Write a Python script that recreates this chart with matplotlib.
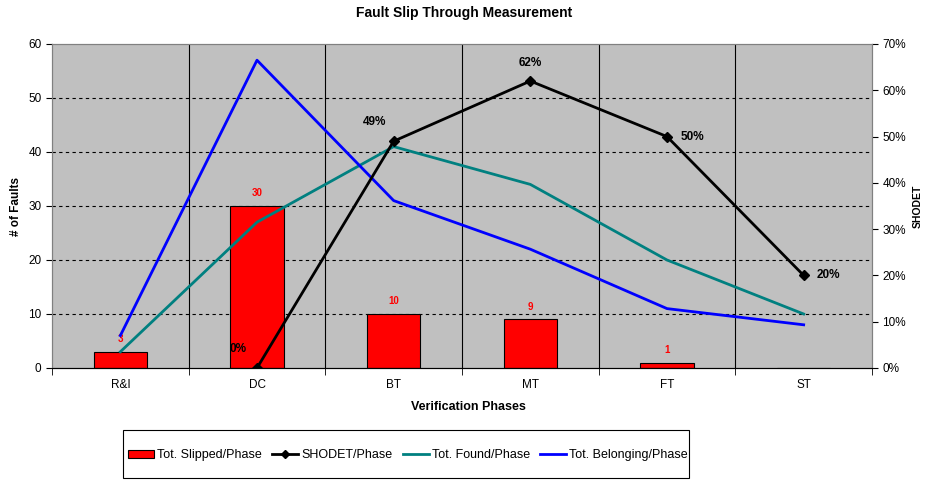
import matplotlib
matplotlib.use("Agg")
import matplotlib.pyplot as plt
from matplotlib.lines import Line2D
from matplotlib.patches import Patch, Rectangle

plt.rcParams['font.family'] = ['Liberation Sans', 'DejaVu Sans']

# Data
phases = ['R&I', 'DC', 'BT', 'MT', 'FT', 'ST']
slipped = [3, 30, 10, 9, 1, 0]
slipped_labels = ['3', '30', '10', '9', '1', '']
shodet = [None, 0.00, 0.49, 0.62, 0.50, 0.20]
shodet_labels = ['', '0%', '49%', '62%', '50%', '20%']
found = [3, 27, 41, 34, 20, 10]
belonging = [6, 57, 31, 22, 11, 8]

left_ticks = [0, 10, 20, 30, 40, 50, 60]
right_ticks = [0, 0.1, 0.2, 0.3, 0.4, 0.5, 0.6, 0.7]
right_tick_labels = ['0%', '10%', '20%', '30%', '40%', '50%', '60%', '70%']

# label offsets (points) for SHODET percentages
shodet_offsets = [(0, 0), (-14, 14), (-14, 14), (0, 13), (18, 0), (18, 0)]


def main():
    fig = plt.figure(figsize=(9.25, 4.8), dpi=100)
    ax = fig.add_axes([52 / 925, 1 - 368 / 480, 820 / 925, 324 / 480])
    ax.set_facecolor('#C0C0C0')

    x = list(range(len(phases)))
    ax.set_xlim(-0.5, len(phases) - 0.5)
    ax.set_ylim(0, 60)
    ax.set_yticks(left_ticks)
    ax.tick_params(axis='y', labelsize=8.5, length=4, direction='out')

    # dashed gridlines and phase separators
    for t in left_ticks[1:-1]:
        ax.axhline(t, color='black', linestyle=(0, (3, 3)), linewidth=0.8, zorder=1)
    for b in range(len(phases) - 1):
        ax.axvline(b + 0.5, color='black', linewidth=0.8, zorder=1)

    ax.set_xticks(x)
    ax.set_xticklabels(phases)
    ax.set_xticks([i - 0.5 for i in range(len(phases) + 1)], minor=True)
    ax.tick_params(axis='x', which='major', length=0, labelsize=8.5, pad=8)
    ax.tick_params(axis='x', which='minor', length=5)

    ax.bar(x, slipped, width=0.39, color='red', edgecolor='black',
           linewidth=0.8, zorder=2)
    for i, v in enumerate(slipped):
        if slipped_labels[i]:
            ax.annotate(slipped_labels[i], (x[i], v), xytext=(0, 9),
                        textcoords='offset points', ha='center', va='center',
                        color='red', fontsize=7, fontweight='bold')

    ax.plot(x, found, color='#008080', linewidth=2, zorder=3)
    ax.plot(x, belonging, color='#0000FF', linewidth=2, zorder=3)

    ax2 = ax.twinx()
    ax2.set_ylim(0, 0.7)
    ax2.set_yticks(right_ticks)
    ax2.set_yticklabels(right_tick_labels)
    ax2.tick_params(axis='y', labelsize=8.5, length=4, direction='out')
    sx = [xi for xi, v in zip(x, shodet) if v is not None]
    sy = [v for v in shodet if v is not None]
    ax2.plot(sx, sy, color='black', linewidth=2, marker='D',
             markersize=5, zorder=4)
    for i, v in enumerate(shodet):
        if v is None:
            continue
        ax2.annotate(shodet_labels[i], (x[i], v), xytext=shodet_offsets[i],
                     textcoords='offset points', ha='center', va='center',
                     fontsize=8.5, fontweight='bold')

    for a in (ax, ax2):
        a.spines['top'].set_color('#808080')
        a.spines['left'].set_color('#808080')
        a.spines['right'].set_color('#808080')
        a.spines['bottom'].set_color('black')

    fig.text(464 / 925, 1 - 13 / 480, 'Fault Slip Through Measurement',
             ha='center', va='center', fontsize=10, fontweight='bold')
    fig.text(16 / 925, 1 - 207 / 480, '# of Faults', rotation=90,
             ha='center', va='center', fontsize=8.5, fontweight='bold')
    fig.text(918 / 925, 1 - 206 / 480, 'SHODET', rotation=90,
             ha='center', va='center', fontsize=7.5, fontweight='bold')
    fig.text(468 / 925, 1 - 407 / 480, 'Verification Phases',
             ha='center', va='center', fontsize=9, fontweight='bold')

    # legend box
    fig.patches.append(Rectangle((123 / 925, 1 - 478 / 480), 566 / 925, 48 / 480,
                                 transform=fig.transFigure, fill=False,
                                 edgecolor='black', linewidth=0.8))
    handles = [Patch(facecolor='red', edgecolor='black', linewidth=0.8),
               Line2D([], [], color='black', linewidth=2, marker='D', markersize=4),
               Line2D([], [], color='#008080', linewidth=2),
               Line2D([], [], color='#0000FF', linewidth=2)]
    labels = ['Tot. Slipped/Phase', 'SHODET/Phase', 'Tot. Found/Phase',
              'Tot. Belonging/Phase']
    fig.legend(handles, labels, loc='center', ncol=4,
               bbox_to_anchor=(408 / 925, 1 - 455 / 480), frameon=False,
               fontsize=9, handlelength=2.1, handleheight=0.6,
               handletextpad=0.25, columnspacing=0.8)

    fig.savefig('out.png', dpi=100)


if __name__ == "__main__":
    main()
